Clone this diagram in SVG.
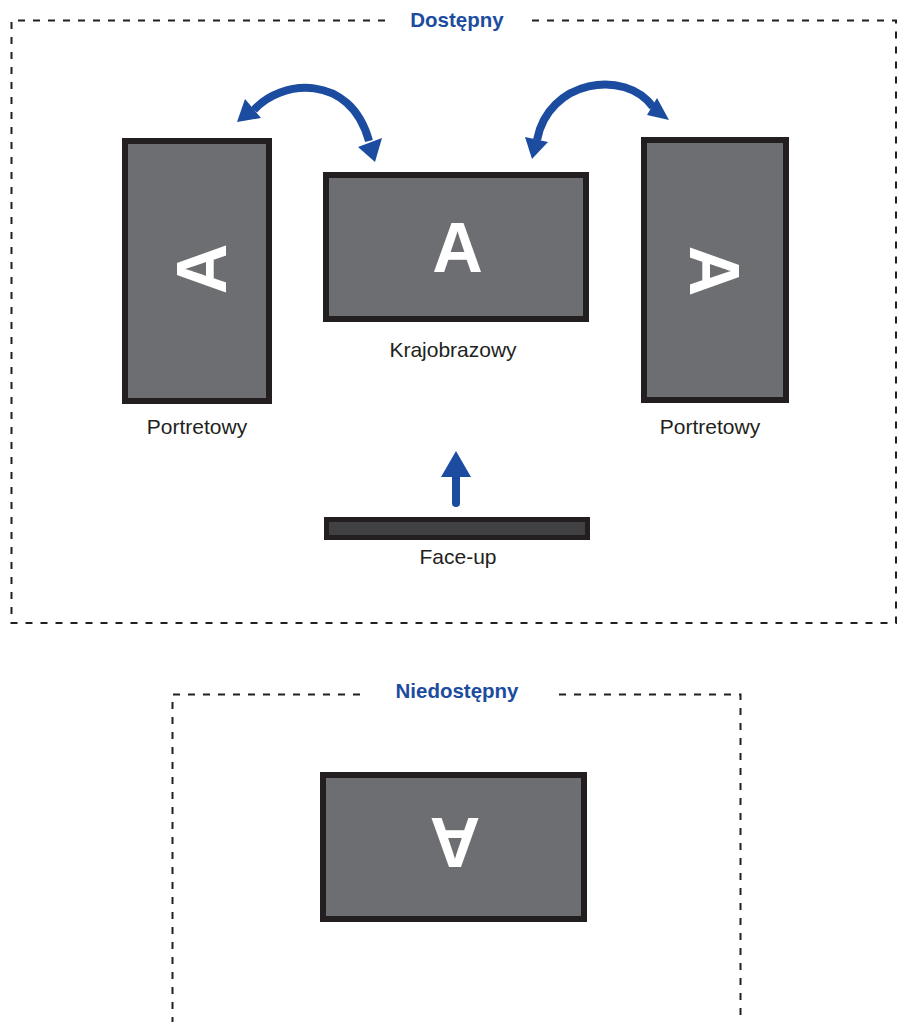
<svg xmlns="http://www.w3.org/2000/svg" width="898" height="1022" viewBox="0 0 898 1022">
<style>
.frame{fill:none;stroke:#231f20;stroke-width:2;stroke-dasharray:7 8}
.screen{fill:#6d6e71;stroke:#231f20;stroke-width:6}
.big{font-family:"Liberation Sans",Arial,sans-serif;font-weight:bold;font-size:70px;fill:#ffffff;text-anchor:middle}
.lbl{font-family:"Liberation Sans",Arial,sans-serif;font-size:21px;fill:#231f20;text-anchor:middle}
.ttl{font-family:"Liberation Sans",Arial,sans-serif;font-weight:bold;font-size:20.5px;fill:#1c4ca0;text-anchor:middle}
.arc{fill:none;stroke:#1c4ca0;stroke-width:8}
.head{fill:#1c4ca0}
</style>
<rect width="898" height="1022" fill="#ffffff"/>
<g id="available-frame">
<path class="frame" d="M385,20.5 H11.5 V623 H896 V20.5 H530"/>
<text class="ttl" x="457" y="26.5">Dostępny</text>
</g>
<g id="unavailable-frame">
<path class="frame" d="M360,694.5 H172.5 V1030 M740.5,1030 V694.5 H553"/>
<text class="ttl" x="457" y="698">Niedostępny</text>
</g>
<g id="portrait-left">
<rect class="screen" x="125" y="141" width="144" height="260"/>
<text class="big" transform="translate(201,269) rotate(-90)" x="0" y="25">A</text>
<text class="lbl" x="197" y="434">Portretowy</text>
</g>
<g id="landscape">
<rect class="screen" x="326" y="175" width="260" height="144"/>
<text class="big" x="457.5" y="272">A</text>
<text class="lbl" x="453" y="357">Krajobrazowy</text>
</g>
<g id="portrait-right">
<rect class="screen" x="644" y="140" width="142" height="260"/>
<text class="big" transform="translate(715,271) rotate(90)" x="0" y="25">A</text>
<text class="lbl" x="710" y="434">Portretowy</text>
</g>
<g id="face-up">
<rect x="326.5" y="519.5" width="261" height="18" fill="#414042" stroke="#231f20" stroke-width="5"/>
<text class="lbl" x="458" y="564">Face-up</text>
</g>
<g id="unavailable">
<rect class="screen" x="323" y="775" width="261" height="144"/>
<text class="big" transform="translate(455,843) rotate(180)" x="0" y="25">A</text>
</g>
<g id="connectors">
<path class="arc" d="M254,110 C280,80 350,72 369,141"/>
<polygon class="head" points="237,122 245,99 261,118"/>
<polygon class="head" points="375,162 358,147 382,138"/>
<path class="arc" d="M537,140 C548,80 625,68 653,107"/>
<polygon class="head" points="532,159 525,137 548,142"/>
<polygon class="head" points="669,120 657,98 647,115"/>
<line x1="456" y1="503" x2="456" y2="474" stroke="#1c4ca0" stroke-width="8" stroke-linecap="round"/>
<polygon class="head" points="456,451 471,477 441,477"/>
</g>
</svg>
